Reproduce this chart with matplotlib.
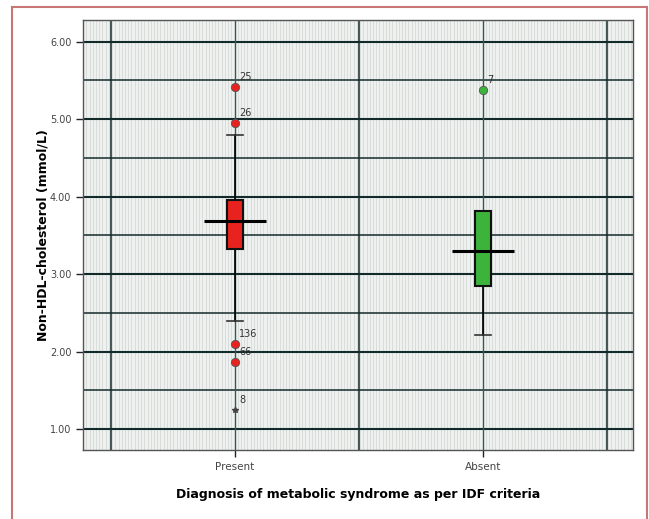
import matplotlib
matplotlib.use("Agg")
import matplotlib.pyplot as plt
import numpy as np

# Datos
categorias = ["Present", "Absent"]
q1 = [3.32, 2.85]
mediana = [3.68, 3.30]
q3 = [3.96, 3.82]
bigote_inf = [2.40, 2.22]
bigote_sup = [4.80, 3.82]
colores = ["#e8231f", "#3cb43c"]

# valores atipicos: (categoria, valor, etiqueta, extremo)
atipicos_cat = [1, 1, 1, 1, 1, 2]
atipicos_val = [5.41, 4.95, 2.10, 1.86, 1.25, 5.38]
atipicos_lab = ["25", "26", "136", "66", "8", "7"]
atipicos_ext = [False, False, False, False, True, False]

y_ticks = [1.0, 2.0, 3.0, 4.0, 5.0, 6.0]

fig = plt.figure(figsize=(6.49, 5.19), dpi=100)
ax = fig.add_axes([0.128, 0.133, 0.847, 0.8285])
ax.set_facecolor("#eef1ef")

# borde rojo de la figura
fig.patches.append(plt.Rectangle((12 / 649, -0.01), (647 - 12) / 649, 1 - 7 / 519 + 0.01,
                                 transform=fig.transFigure, fill=False,
                                 edgecolor="#c97676", linewidth=1.5))

ax.set_xlim(0.387, 2.605)
ax.set_ylim(0.73, 6.28)

# textura de fondo (rayas verticales claras)
for xs in np.arange(0.40, 2.60, 0.013):
    ax.axvline(xs, color="#d4dad6", linewidth=0.6, zorder=0)

# rejilla
for y in np.arange(1.0, 6.01, 0.5):
    ax.axhline(y, color="#132a2a", linewidth=1.5 if y % 1 == 0 else 1.1, zorder=1)
for x in [0.5, 1.5, 2.5]:
    ax.axvline(x, color="#132a2a", linewidth=1.1, zorder=1)
for x in [1, 2]:
    ax.axvline(x, color="#2f5c55", linewidth=1.0, zorder=1)

posiciones = np.arange(1, len(categorias) + 1)
stats = []
for i in range(len(categorias)):
    stats.append(dict(med=mediana[i], q1=q1[i], q3=q3[i],
                      whislo=bigote_inf[i], whishi=bigote_sup[i], fliers=[]))

bp = ax.bxp(stats, positions=posiciones, widths=0.065, patch_artist=True,
            showfliers=False, capwidths=0.065,
            whiskerprops=dict(color="black", linewidth=1.2),
            capprops=dict(color="#333333", linewidth=1.2),
            medianprops=dict(linewidth=0),
            boxprops=dict(edgecolor="#111111", linewidth=1.5), manage_ticks=False)
for caja, c in zip(bp["boxes"], colores):
    caja.set_facecolor(c)
    caja.set_zorder(3)
for art in bp["whiskers"] + bp["caps"]:
    art.set_zorder(2)
bp["caps"][3].set_color("#777777")

# lineas de mediana anchas
ax.hlines(mediana, posiciones - 0.125, posiciones + 0.125, color="black",
          linewidth=2.2, zorder=4)

# atipicos
for c, v, lab, ext in zip(atipicos_cat, atipicos_val, atipicos_lab, atipicos_ext):
    col = colores[c - 1]
    if ext:
        ax.plot(c, v, marker="*", color="#444444", markersize=4, zorder=5)
    else:
        ax.plot(c, v, marker="o", markerfacecolor=col, markeredgecolor="#555555",
                markersize=6, markeredgewidth=0.6, zorder=5)
    ax.annotate(lab, (c, v), xytext=(3, 5), textcoords="offset points",
                fontsize=7, color="#333333", zorder=6)

ax.set_yticks(y_ticks)
ax.set_yticklabels(["%.2f" % t for t in y_ticks], fontsize=7, color="#444444")
ax.set_xticks(posiciones)
ax.set_xticklabels(categorias, fontsize=7.5, color="#444444")
ax.tick_params(axis="both", length=5, width=1, color="#222222")

for s in ax.spines.values():
    s.set_color("#555555")
    s.set_linewidth(1.0)

ax.set_ylabel("Non-HDL-cholesterol (mmol/L)", fontsize=9, fontweight="bold", labelpad=0)
ax.set_xlabel("Diagnosis of metabolic syndrome as per IDF criteria", fontsize=9,
              fontweight="bold", labelpad=12)

fig.savefig("out.png", dpi=100, facecolor="white")
